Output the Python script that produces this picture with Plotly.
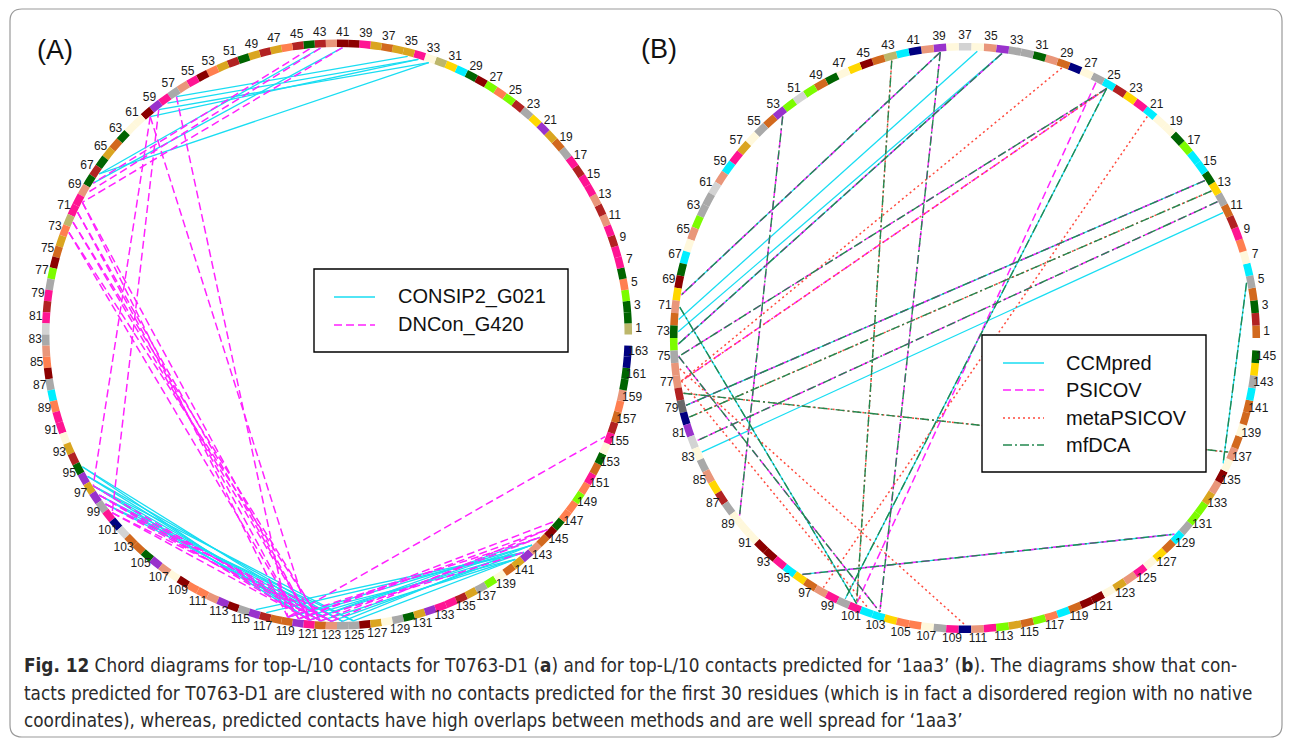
import plotly.graph_objects as go

W, H = 1290, 742

# ---------------------------------------------------------------- palette
PALETTE = {
    'G': '#006400', 'R': '#B22222', 'M': '#8B0000', 'P': '#FF1493', 'S': '#E9967A',
    'C': '#FF7F50', 'O': '#D2691E', 'D': '#DAA520', 'Y': '#FFD700', 'A': '#A9A9A9',
    'L': '#D3D3D3', 'W': '#FFF8DC', 'K': '#BDB76B', 'N': '#00EEFF', 'V': '#9932CC',
    'B': '#000080', 'E': '#7CFC00', 'I': '#696969',
}

# ---------------------------------------------------------------- panel A data (T0763-D1, 163 residues)
A_N = 163
A_RESIDUE_CODES = (
    "KGGECGPPRP" "SRSPPRPAOD" "VYARECEMGN" "YKWPDDODPM" "MSRGRCDRDG"
    "RDCMPSAPVM" "WWGODGRGSP" "PKCDOMEAPR" "PLASCMANCP" "PWDRGVDVAP"
    "BLOOGVSWMC" "CSVMAVROOV" "POSAAMDWAG" "DVPPRDAEWO" "DVSOMGCCEC"
    "POGWPROCSG" "GBB"
)
A_CONSIP2 = [
    (35, 57), (34, 58), (33, 59), (34, 60), (43, 67), (41, 68), (33, 67),
    (95, 121), (95, 123), (96, 122), (96, 124), (97, 121), (97, 123), (97, 125),
    (98, 122), (98, 124), (99, 123), (99, 125),
    (116, 142), (117, 142), (119, 141), (119, 143), (120, 142), (121, 143),
    (121, 144), (122, 141), (123, 142), (124, 143), (125, 141),
]
A_DNCON = [
    (43, 69), (44, 68), (41, 70),
    (60, 97), (59, 100), (57, 119), (60, 121),
    (70, 119), (71, 120), (71, 121), (72, 121), (72, 122), (73, 120), (73, 122), (70, 121),
    (97, 122), (98, 121), (98, 123), (99, 122), (99, 124), (100, 121), (100, 123),
    (119, 144), (120, 145), (121, 142), (122, 144), (123, 145), (120, 146), (119, 155),
]

# ---------------------------------------------------------------- panel B data (1aa3, 145 residues)
B_N = 145
B_RESIDUE_CODES = (
    "ORGOANWCPR" "OAYGNNEGWW" "NPYRNAWBOS" "GAAVSWLWVS" "BNKOMYWGOE"
    "LEVOAWDPNS" "LAAESWNGMY" "SOGEASSRIB" "VLWASYRAWW" "WMMPNYOSPA"
    "PNNYCCWAPB" "SPEDOECNOM" "MWDSPWYONA" "EEDSMWSOWO" "ONAYG"
)
B_CCMPRED = [(36, 72), (34, 73), (11, 83), (25, 100), (96, 129), (39, 70), (34, 74),
             (5, 136), (14, 79), (71, 101)]
B_PSICOV = [(26, 101), (25, 77), (25, 75), (39, 70), (34, 74), (53, 89), (39, 103),
            (14, 79), (12, 82), (96, 129), (75, 103)]
B_METAPSICOV = [(29, 77), (21, 98), (25, 77), (76, 110), (77, 102), (43, 101),
                (13, 80), (78, 137)]
B_MFDCA = [(39, 70), (34, 74), (53, 89), (43, 101), (39, 103), (25, 75), (25, 100),
           (14, 79), (13, 80), (12, 82), (96, 129), (78, 137), (5, 136), (71, 101), (75, 103)]

# ---------------------------------------------------------------- styling
RMAX = 1.08          # radial range of each polar subplot
RING_IN, RING_T = 0.988, 0.026
CHORD_R = 0.986
LABEL_R = 1.037
LABEL_FONT = dict(family="Liberation Sans, Arial, sans-serif", size=12, color="#1a1a1a")

STYLE = {
    "cyan": dict(color="#19DDF2", width=1.3, dash="solid"),
    "magenta": dict(color="#FF22FF", width=1.5, dash="8px,4px"),
    "red": dict(color="#FF4A3D", width=1.5, dash="2px,3px"),
    "green": dict(color="#23884F", width=1.4, dash="9px,3px,2px,3px"),
}


def angle(k, n):
    step = 360.0 / (n + 1)
    return (k - 0.5) * step


def ring_traces(codes, n, subplot):
    step = 360.0 / (n + 1)
    ks = list(range(1, n + 1))
    ring = go.Barpolar(
        r=[RING_T] * n, base=[RING_IN] * n,
        theta=[angle(k, n) for k in ks], width=[step] * n,
        marker=dict(color=[PALETTE[c] for c in codes], line=dict(width=0)),
        subplot=subplot, hoverinfo="skip", showlegend=False,
    )
    odd = [k for k in ks if k % 2 == 1]
    labels = go.Scatterpolar(
        r=[LABEL_R] * len(odd), theta=[angle(k, n) for k in odd],
        mode="text", text=[str(k) for k in odd], textposition="middle center",
        textfont=LABEL_FONT, cliponaxis=False,
        subplot=subplot, hoverinfo="skip", showlegend=False,
    )
    return [ring, labels]


def chord_trace(pairs, n, style, subplot):
    th, rr = [], []
    for i, j in pairs:
        th += [angle(i, n), angle(j, n), None]
        rr += [CHORD_R, CHORD_R, None]
    return go.Scatterpolar(
        r=rr, theta=th, mode="lines", line=STYLE[style],
        subplot=subplot, hoverinfo="skip", showlegend=False,
    )


fig = go.Figure()

# panel A
fig.add_trace(chord_trace(A_CONSIP2, A_N, "cyan", "polar"))
fig.add_trace(chord_trace(A_DNCON, A_N, "magenta", "polar"))
for t in ring_traces(A_RESIDUE_CODES, A_N, "polar"):
    fig.add_trace(t)

# panel B
fig.add_trace(chord_trace(B_CCMPRED, B_N, "cyan", "polar2"))
fig.add_trace(chord_trace(B_PSICOV, B_N, "magenta", "polar2"))
fig.add_trace(chord_trace(B_METAPSICOV, B_N, "red", "polar2"))
fig.add_trace(chord_trace(B_MFDCA, B_N, "green", "polar2"))
for t in ring_traces(B_RESIDUE_CODES, B_N, "polar2"):
    fig.add_trace(t)


def px(x):
    return x / W


def py(y):
    return 1 - y / H


def polar_layout(cx, cy, ring_px=291.0):
    rpx = ring_px * RMAX
    return dict(
        domain=dict(x=[px(cx - rpx), px(cx + rpx)], y=[py(cy + rpx), py(cy - rpx)]),
        bgcolor="rgba(0,0,0,0)",
        radialaxis=dict(visible=False, range=[0, RMAX]),
        angularaxis=dict(visible=False, direction="counterclockwise", rotation=0),
        bargap=0,
    )


shapes = []
annotations = []

# outer rounded frame
x0, y0, x1, y1, rc = 10, 9, 1282, 737, 12
frame = (f"M {px(x0 + rc)},{py(y0)} L {px(x1 - rc)},{py(y0)} "
         f"Q {px(x1)},{py(y0)} {px(x1)},{py(y0 + rc)} L {px(x1)},{py(y1 - rc)} "
         f"Q {px(x1)},{py(y1)} {px(x1 - rc)},{py(y1)} L {px(x0 + rc)},{py(y1)} "
         f"Q {px(x0)},{py(y1)} {px(x0)},{py(y1 - rc)} L {px(x0)},{py(y0 + rc)} "
         f"Q {px(x0)},{py(y0)} {px(x0 + rc)},{py(y0)} Z")
shapes.append(dict(type="path", path=frame, xref="paper", yref="paper",
                   line=dict(color="#9a9a9a", width=1.2), layer="below"))

LEG_FONT = dict(family="Liberation Sans, Arial, sans-serif", size=20, color="#111111")


def legend_box(bx0, by0, bx1, by1, entries, line_x0, line_x1, text_x):
    shapes.append(dict(type="rect", xref="paper", yref="paper",
                       x0=px(bx0), x1=px(bx1), y0=py(by1), y1=py(by0),
                       line=dict(color="#000000", width=1.4), fillcolor="white",
                       layer="above"))
    for name, style, yy in entries:
        st = STYLE[style]
        shapes.append(dict(type="line", xref="paper", yref="paper",
                           x0=px(line_x0), x1=px(line_x1), y0=py(yy), y1=py(yy),
                           line=dict(color=st["color"], width=st["width"], dash=st["dash"]),
                           layer="above"))
        annotations.append(dict(x=px(text_x), y=py(yy), xref="paper", yref="paper",
                                text=name, showarrow=False, xanchor="left", yanchor="middle",
                                font=LEG_FONT))


legend_box(314, 269, 568, 352,
           [("CONSIP2_G021", "cyan", 297), ("DNCon_G420", "magenta", 325)],
           334, 375, 396)
legend_box(982, 335, 1206, 472,
           [("CCMpred", "cyan", 363), ("PSICOV", "magenta", 390),
            ("metaPSICOV", "red", 418), ("mfDCA", "green", 445)],
           1003, 1044, 1064)

PANEL_FONT = dict(family="Liberation Sans, Arial, sans-serif", size=27, color="#111111")
annotations.append(dict(x=px(55), y=py(50), xref="paper", yref="paper", text="(A)",
                        showarrow=False, xanchor="center", yanchor="middle", font=PANEL_FONT))
annotations.append(dict(x=px(659), y=py(49), xref="paper", yref="paper", text="(B)",
                        showarrow=False, xanchor="center", yanchor="middle", font=PANEL_FONT))

CAPTION_FONT = dict(family="Liberation Sans Narrow, DejaVu Sans Condensed, Arial Narrow, sans-serif",
                    size=18.8, color="#2b2b2b")
caption_lines = [
    "<b>Fig. 12</b> Chord diagrams for top-L/10 contacts for T0763-D1 (<b>a</b>) and for "
    "top-L/10 contacts predicted for \u20181aa3\u2019 (<b>b</b>). The diagrams show that con-",
    "tacts predicted for T0763-D1 are clustered with no contacts predicted for the first 30 "
    "residues (which is in fact a disordered region with no native",
    "coordinates), whereas, predicted contacts have high overlaps between methods and are "
    "well spread for \u20181aa3\u2019",
]
for txt, yy in zip(caption_lines, [665, 693, 720]):
    annotations.append(dict(x=px(22), y=py(yy), xref="paper", yref="paper", text=txt,
                            showarrow=False, xanchor="left", yanchor="middle",
                            font=CAPTION_FONT))

fig.update_layout(
    width=W, height=H,
    margin=dict(l=0, r=0, t=0, b=0),
    paper_bgcolor="white", plot_bgcolor="white",
    showlegend=False,
    polar=polar_layout(337, 334.5),
    polar2=polar_layout(965, 338),
    shapes=shapes,
    annotations=annotations,
)

fig.write_html("out.html")
